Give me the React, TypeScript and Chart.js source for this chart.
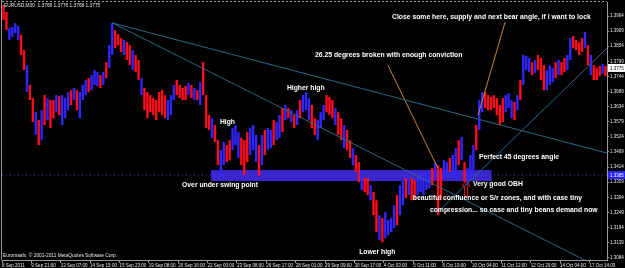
import React, { useEffect, useRef } from 'react';
import { Chart, registerables } from 'chart.js';

Chart.register(...registerables);

const chartTitle = 'EURUSD,M30  1.3769 1.3776 1.3768 1.3775';
const copyrightText = 'Euromaafx, \u00a9 2001-2011 MetaQuotes Software Corp.';

const timeLabels = [
  '8 Sep 2011', '9 Sep 21:00', '13 Sep 07:00', '14 Sep 15:00', '15 Sep 23:00',
  '19 Sep 08:00', '20 Sep 16:00', '22 Sep 00:00', '23 Sep 08:00', '26 Sep 17:00',
  '28 Sep 01:00', '29 Sep 09:00', '30 Sep 17:00', '4 Oct 03:00', '5 Oct 11:00',
  '6 Oct 19:00', '10 Oct 04:00', '11 Oct 12:00', '12 Oct 20:00', '14 Oct 04:00',
  '17 Oct 14:00',
];
const barsPerLabel = 10;
const barCount = 206;

const priceTicks = [
  1.3084, 1.3139, 1.3194, 1.3249, 1.3304, 1.3359, 1.3414, 1.3469, 1.3524,
  1.3579, 1.3634, 1.3689, 1.3744, 1.3799, 1.3854, 1.3909, 1.3964,
];
const priceMin = 1.30756;
const priceMax = 1.4015;

// grouped bars (each ~6 M30 bars): highs and lows
const barHighs = [
  1.4004, 1.3979, 1.3920, 1.3924, 1.3938, 1.3928, 1.3895, 1.3840, 1.3785, 1.3713,
  1.3665, 1.3614, 1.3585, 1.3621, 1.3676, 1.3665, 1.3658, 1.3658, 1.3676, 1.3672,
  1.3676, 1.3665, 1.3687, 1.3694, 1.3702, 1.3694, 1.3687, 1.3713, 1.3731, 1.3738,
  1.3749, 1.3767, 1.3760, 1.3749, 1.3760, 1.3796, 1.3858, 1.3938, 1.3913, 1.3898,
  1.3884, 1.3877, 1.3869, 1.3858, 1.3840, 1.3822, 1.3804, 1.3738, 1.3702, 1.3687,
  1.3676, 1.3665, 1.3658, 1.3687, 1.3694, 1.3676, 1.3658, 1.3676, 1.3713, 1.3731,
  1.3713, 1.3702, 1.3709, 1.3720, 1.3713, 1.3702, 1.3694, 1.3723, 1.3796, 1.3676,
  1.3603, 1.3592, 1.3567, 1.3512, 1.3476, 1.3505, 1.3494, 1.3512, 1.3556, 1.3567,
  1.3541, 1.3520, 1.3512, 1.3541, 1.3556, 1.3567, 1.3531, 1.3494, 1.3531, 1.3549,
  1.3556, 1.3549, 1.3585, 1.3578, 1.3603, 1.3629, 1.3640, 1.3629, 1.3621, 1.3603,
  1.3621, 1.3658, 1.3676, 1.3687, 1.3665, 1.3640, 1.3592, 1.3585, 1.3614, 1.3640,
  1.3676, 1.3669, 1.3658, 1.3629, 1.3614, 1.3592, 1.3567, 1.3549, 1.3512, 1.3483,
  1.3458, 1.3432, 1.3403, 1.3374, 1.3374, 1.3348, 1.3323, 1.3293, 1.3239, 1.3228,
  1.3250, 1.3221, 1.3228, 1.3275, 1.3312, 1.3348, 1.3366, 1.3374, 1.3385, 1.3374,
  1.3366, 1.3374, 1.3385, 1.3374, 1.3396, 1.3403, 1.3410, 1.3432, 1.3421, 1.3410,
  1.3439, 1.3432, 1.3447, 1.3458, 1.3483, 1.3512, 1.3523, 1.3432, 1.3410, 1.3458,
  1.3494, 1.3567, 1.3658, 1.3687, 1.3687, 1.3676, 1.3669, 1.3676, 1.3665, 1.3640,
  1.3665, 1.3676, 1.3683, 1.3658, 1.3651, 1.3676, 1.3731, 1.3822, 1.3818, 1.3811,
  1.3796, 1.3804, 1.3822, 1.3811, 1.3785, 1.3767, 1.3785, 1.3775, 1.3796, 1.3804,
  1.3796, 1.3811, 1.3822, 1.3884, 1.3891, 1.3877, 1.3869, 1.3884, 1.3906, 1.3858,
  1.3822, 1.3785, 1.3775, 1.3782, 1.3789, 1.3782,
];
const barLows = [
  1.3949, 1.3913, 1.3877, 1.3888, 1.3902, 1.3877, 1.3822, 1.3767, 1.3687, 1.3658,
  1.3578, 1.3531, 1.3494, 1.3512, 1.3567, 1.3585, 1.3556, 1.3592, 1.3614, 1.3603,
  1.3567, 1.3592, 1.3621, 1.3640, 1.3658, 1.3621, 1.3592, 1.3658, 1.3676, 1.3687,
  1.3694, 1.3713, 1.3709, 1.3702, 1.3713, 1.3738, 1.3775, 1.3822, 1.3847, 1.3858,
  1.3833, 1.3822, 1.3804, 1.3785, 1.3767, 1.3760, 1.3731, 1.3676, 1.3621, 1.3592,
  1.3614, 1.3603, 1.3585, 1.3614, 1.3603, 1.3592, 1.3585, 1.3603, 1.3658, 1.3676,
  1.3665, 1.3658, 1.3658, 1.3676, 1.3665, 1.3658, 1.3658, 1.3640, 1.3676, 1.3556,
  1.3549, 1.3520, 1.3505, 1.3421, 1.3377, 1.3421, 1.3432, 1.3439, 1.3476, 1.3494,
  1.3447, 1.3421, 1.3385, 1.3432, 1.3458, 1.3476, 1.3432, 1.3381, 1.3421, 1.3458,
  1.3476, 1.3483, 1.3494, 1.3512, 1.3520, 1.3541, 1.3585, 1.3592, 1.3578, 1.3556,
  1.3567, 1.3592, 1.3614, 1.3621, 1.3585, 1.3556, 1.3531, 1.3512, 1.3556, 1.3585,
  1.3614, 1.3603, 1.3592, 1.3567, 1.3531, 1.3512, 1.3483, 1.3476, 1.3447, 1.3421,
  1.3396, 1.3359, 1.3330, 1.3323, 1.3312, 1.3293, 1.3239, 1.3177, 1.3148, 1.3140,
  1.3155, 1.3166, 1.3177, 1.3191, 1.3202, 1.3239, 1.3275, 1.3301, 1.3312, 1.3293,
  1.3301, 1.3312, 1.3323, 1.3312, 1.3330, 1.3337, 1.3348, 1.3366, 1.3239, 1.3293,
  1.3374, 1.3385, 1.3396, 1.3385, 1.3374, 1.3421, 1.3439, 1.3359, 1.3348, 1.3374,
  1.3403, 1.3476, 1.3549, 1.3614, 1.3629, 1.3621, 1.3621, 1.3629, 1.3603, 1.3567,
  1.3578, 1.3614, 1.3629, 1.3592, 1.3585, 1.3621, 1.3658, 1.3713, 1.3767, 1.3760,
  1.3749, 1.3756, 1.3767, 1.3731, 1.3694, 1.3694, 1.3713, 1.3723, 1.3738, 1.3749,
  1.3749, 1.3760, 1.3767, 1.3804, 1.3847, 1.3840, 1.3822, 1.3833, 1.3847, 1.3785,
  1.3749, 1.3731, 1.3731, 1.3745, 1.3753, 1.3745,
];

const lastClose = 1.3775;
const levelPrice = 1.3385;

// drawn objects (time in bar units, price)
const zoneTimes = [71.2, 166.7];
const zonePrices = [1.3363, 1.3403];
const trendA = [{ x: 37.5, y: 1.3939 }, { x: 206, y: 1.3465 }];
const trendB = [{ x: 37.5, y: 1.3939 }, { x: 198.5, y: 1.3075 }];
const angleLine = [{ x: 148.4, y: 1.3250 }, { x: 206, y: 1.3847 }];
const orangeA = [{ x: 131.4, y: 1.3785 }, { x: 148.4, y: 1.3410 }];
const orangeB = [{ x: 171.3, y: 1.3942 }, { x: 162.1, y: 1.3603 }];
const arrowTime = 158.0;
const arrowPrices = [1.3308, 1.3363];

const noteTexts = [
  'Close some here, supply and next bear angle, if i want to lock',
  '26.25 degrees broken with enough conviction',
  'Higher high',
  'High',
  'Over under swing point',
  'Perfect 45 degrees angle',
  'Very good OBH',
  'beautiful confluence or S/r zones, and with case tiny',
  'compression... so case and tiny beans demand now',
  'Lower high',
];
const noteTimes = [132.8, 106.6, 97.0, 74.2, 61.3, 162.4, 160.4, 139.9, 145.7, 121.6];
const notePrices = [1.3960, 1.3822, 1.3702, 1.3578, 1.3348, 1.3450, 1.3352, 1.3301, 1.3257, 1.3104];

const RED = '#ff0d1a';
const BLUE = '#3026ff';
const TREND = '#2f6689';
const ORANGE = '#c8862a';
const AXIS = '#9a9a9a';
const TXT = '#e6e6e6';
const FONT = '"Liberation Sans", Arial, sans-serif';

const mt4Plugin = {
  id: 'mt4',
  beforeDraw(chart: any) {
    const { ctx, width, height } = chart;
    ctx.save();
    ctx.fillStyle = '#000000';
    ctx.fillRect(0, 0, width, height);
    ctx.restore();
  },
  beforeDatasetsDraw(chart: any) {
    const { ctx, scales } = chart;
    const x = scales.x, y = scales.y;
    const x0 = x.getPixelForValue(zoneTimes[0]);
    const x1 = x.getPixelForValue(zoneTimes[1]);
    const y0 = y.getPixelForValue(zonePrices[1]);
    const y1 = y.getPixelForValue(zonePrices[0]);
    ctx.save();
    ctx.fillStyle = '#3a26cc';
    ctx.fillRect(x0, y0, x1 - x0, y1 - y0);
    ctx.restore();
  },
  afterDraw(chart: any) {
    const { ctx, scales, chartArea } = chart;
    const x = scales.x, y = scales.y;
    ctx.save();
    // frame
    ctx.strokeStyle = AXIS;
    ctx.lineWidth = 1;
    ctx.beginPath();
    ctx.moveTo(1.5, 0);
    ctx.lineTo(1.5, chartArea.bottom);
    ctx.stroke();
    ctx.setLineDash([2, 2]);
    ctx.beginPath();
    ctx.moveTo(chartArea.left, 1.5);
    ctx.lineTo(chartArea.right, 1.5);
    ctx.stroke();
    ctx.setLineDash([]);

    // arrow
    const ax = x.getPixelForValue(arrowTime);
    const ab = y.getPixelForValue(arrowPrices[0]);
    const at = y.getPixelForValue(arrowPrices[1]);
    ctx.strokeStyle = '#d01010';
    ctx.beginPath();
    ctx.moveTo(ax, at);
    ctx.lineTo(ax + 4, at + 5);
    ctx.lineTo(ax + 1.5, at + 5);
    ctx.lineTo(ax + 1.5, ab);
    ctx.lineTo(ax - 1.5, ab);
    ctx.lineTo(ax - 1.5, at + 5);
    ctx.lineTo(ax - 4, at + 5);
    ctx.closePath();
    ctx.stroke();

    // notes
    ctx.fillStyle = '#ffffff';
    ctx.font = 'bold 6.8px ' + FONT;
    ctx.textBaseline = 'middle';
    ctx.textAlign = 'left';
    noteTexts.forEach((t, i) => {
      ctx.fillText(t, x.getPixelForValue(noteTimes[i]), y.getPixelForValue(notePrices[i]));
    });

    // header & copyright
    ctx.fillStyle = TXT;
    ctx.font = '4.8px ' + FONT;
    ctx.fillText(chartTitle, 4, 5.5);
    ctx.fillText(copyrightText, 3, 256);

    // price highlights
    const drawTag = (price: number, bg: string, fg: string) => {
      const py = y.getPixelForValue(price);
      ctx.fillStyle = bg;
      ctx.fillRect(chartArea.right + 1, py - 4, 18, 8);
      ctx.fillStyle = fg;
      ctx.font = '4.5px ' + FONT;
      ctx.fillText(price.toFixed(4), chartArea.right + 3, py + 0.5);
    };
    drawTag(lastClose, '#ffffff', '#000000');
    drawTag(levelPrice, '#2424ff', '#ffffff');
    ctx.restore();
  },
};

export default function App() {
  const ref = useRef<HTMLCanvasElement | null>(null);
  useEffect(() => {
    if (!ref.current) return;
    const mids = barHighs.map((h, i) => (h + barLows[i]) / 2);
    const colors = mids.map((m, i) => {
      const up = i > 0 && m >= mids[i - 1];
      const flip = i % 3 === 2;
      return up !== flip ? BLUE : RED;
    });
    const line = (data: any[], color: string, extra: any = {}) => ({
      type: 'line',
      data,
      borderColor: color,
      borderWidth: 1,
      pointRadius: 0,
      fill: false,
      order: 1,
      ...extra,
    });
    const chart = new Chart(ref.current, {
      type: 'bar',
      data: {
        datasets: [
          {
            type: 'bar',
            data: barHighs.map((h, i) => ({ x: i + 0.5, y: [barLows[i], h] })),
            backgroundColor: colors,
            borderWidth: 0,
            barPercentage: 1,
            categoryPercentage: 0.82,
            order: 2,
          } as any,
          line([{ x: 0, y: levelPrice }, { x: barCount, y: levelPrice }], '#3c3cff', { borderDash: [1, 3] }),
          line(trendA, TREND),
          line(trendB, TREND),
          line(angleLine, TREND),
          line(orangeA, ORANGE),
          line(orangeB, ORANGE),
        ],
      },
      options: {
        animation: false,
        responsive: false,
        maintainAspectRatio: false,
        layout: { padding: { left: 2, top: 2, right: 0, bottom: 0 } },
        plugins: { legend: { display: false }, tooltip: { enabled: false } },
        scales: {
          x: {
            type: 'linear',
            min: 0,
            max: barCount,
            offset: false,
            grid: { display: true, drawOnChartArea: false, drawTicks: true, tickLength: 3, color: AXIS, offset: false },
            border: { display: true, color: AXIS },
            afterBuildTicks: (s: any) => {
              s.ticks = timeLabels.map((_, k) => ({ value: k * barsPerLabel }));
            },
            afterFit: (s: any) => {
              s.height = 8;
              s.paddingLeft = 0;
              s.paddingRight = 0;
            },
            ticks: {
              align: 'start',
              padding: 0,
              maxRotation: 0,
              autoSkip: false,
              color: TXT,
              font: { size: 4.5, family: FONT },
              callback: (v: any) => timeLabels[Math.round(Number(v) / barsPerLabel)] ?? '',
            },
          },
          y: {
            type: 'linear',
            position: 'right',
            min: priceMin,
            max: priceMax,
            grid: { display: true, drawOnChartArea: false, drawTicks: true, tickLength: 2, color: AXIS },
            border: { display: true, color: AXIS },
            afterBuildTicks: (s: any) => {
              s.ticks = priceTicks.map((v) => ({ value: v }));
            },
            afterFit: (s: any) => {
              s.width = 18;
              s.paddingTop = 0;
              s.paddingBottom = 0;
            },
            ticks: {
              crossAlign: 'near',
              padding: 1,
              autoSkip: false,
              color: TXT,
              font: { size: 4.5, family: FONT },
              callback: (v: any) => Number(v).toFixed(4),
            },
          },
        },
      } as any,
      plugins: [mt4Plugin],
    });
    return () => chart.destroy();
  }, []);
  return (
    <div style={{ position: 'fixed', left: 0, top: 0, width: 625, height: 268, background: '#000' }}>
      <canvas ref={ref} width={625} height={268} style={{ display: 'block' }} />
    </div>
  );
}
